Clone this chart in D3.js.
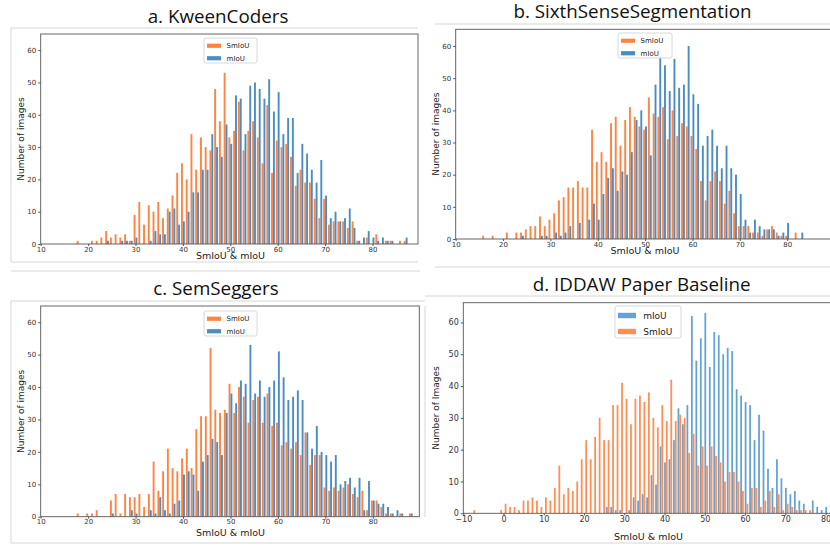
<!DOCTYPE html>
<html>
<head>
<meta charset="utf-8">
<script src="https://cdn.jsdelivr.net/npm/d3@7"></script>
<style>
  body { margin: 0; background: #fff; }
  svg { display: block; }
  .tick text { font-family: "DejaVu Sans", sans-serif; fill: #333; }
  .lbl { font-family: "DejaVu Sans", sans-serif; fill: #222; }
  .ttl { font-family: "Open Sans", sans-serif; fill: #111; }
</style>
</head>
<body>
<div id="chart"></div>
<script>
// ---- data (counts per bin) ----
var titles = ["a. KweenCoders", "b. SixthSenseSegmentation", "c. SemSeggers", "d. IDDAW Paper Baseline"];
var ticksX = [10, 20, 30, 40, 50, 60, 70, 80];
var ticksXD = [-10, 0, 10, 20, 30, 40, 50, 60, 70, 80];
var ticksY = [0, 10, 20, 30, 40, 50, 60];

// a. KweenCoders, bins of width 1 starting at 17.5
var binStartA = 17.5, binWidthA = 1;
var smA = [1,0,0,1,1,2,4,2,3,2,3,1,9,13,6,12,10,13,8,11,15,22,25,20,34,23,33,30,29,48,38,53,33,35,44,29,35,38,33,25,43,22,32,30,31,27,18,23,19,19,14,8,14,6,7,7,7,5,7,1,0,2,0,3,0,1,1,0,1,1,0];
var miA = [0,0,0,0,0,0,1,0,0,1,1,1,2,0,0,1,4,3,3,10,11,6,7,10,16,16,23,23,34,30,27,37,31,46,45,34,49,50,48,45,51,41,47,34,39,39,22,31,28,23,19,26,15,8,10,7,8,11,5,1,2,4,2,1,2,1,1,0,0,2,0];

// b. SixthSenseSegmentation, starting at 15.5
var binStartB = 15.5, binWidthB = 1;
var smB = [1,0,1,0,0,2,0,2,2,3,4,4,7,4,6,8,12,13,16,16,18,16,16,34,24,27,24,36,38,29,37,41,38,35,34,44,39,38,41,31,40,32,36,35,32,28,18,12,18,21,18,11,15,8,4,4,4,2,2,1,3,4,2,1,1,0,2,0];
var miB = [0,0,0,0,0,0,0,0,1,0,0,0,1,1,0,2,1,2,4,0,5,0,6,11,6,14,19,22,15,21,20,27,37,40,35,26,48,57,54,46,56,47,48,60,45,42,29,32,34,29,22,29,22,20,14,6,2,6,4,3,3,3,1,2,5,0,0,2];

// c. SemSeggers, starting at 17.5
var binStartC = 17.5, binWidthC = 1;
var smC = [1,0,1,1,2,0,0,5,7,1,7,6,6,7,3,7,17,8,14,21,15,14,18,21,15,27,31,31,52,33,32,33,41,32,40,37,29,36,37,29,38,28,29,22,23,21,23,19,26,16,19,19,9,8,9,8,9,10,7,6,8,2,5,5,3,1,1,0,1,0,1];
var miC = [0,0,0,0,0,0,0,1,0,0,0,2,1,0,0,2,1,6,2,1,4,5,13,14,13,8,17,19,24,23,19,32,38,35,42,41,53,38,42,37,40,42,51,43,36,37,39,36,26,21,28,20,19,17,19,10,11,12,9,12,2,11,5,4,4,3,1,2,1,0,1];

// d. IDDAW Paper Baseline, 80 bins from -8.06, width 1.1125
var binStartD = -8.06, binWidthD = 1.1125;
var miD = [0,0,0,0,0,0,0,0,0,0,0,0,0,0,0,0,0,0,0,0,0,0,0,0,0,0,0,0,0,0,2,2,1,1,0,1,5,4,6,5,12,9,21,16,17,23,33,28,34,62,48,55,63,46,57,56,50,52,51,39,37,35,34,23,31,26,14,8,17,11,8,6,7,4,3,0,4,2,1,2];
var smD = [1,0,0,0,0,0,1,3,2,2,1,4,4,5,4,2,5,4,8,15,6,8,7,10,17,23,17,24,30,23,23,34,34,41,36,28,36,37,35,38,30,27,34,29,42,29,31,30,19,25,15,21,15,21,18,16,10,13,13,10,7,3,8,8,2,4,7,2,6,1,3,2,1,1,1,1,0,0,0,0];

var W = 830, H = 545;
var orange = "#fd8442", blue = "#4b8dc3";
var orangeD = "#ff8f55", blueD = "#66a3d3";

var svg = d3.select("#chart").append("svg").attr("width", W).attr("height", H);

// light borders of the pasted screenshots
var frameLines = [
    [11, 28, 11, 262], [11, 28, 418, 28], [11, 262, 418, 262],
    [435, 24, 830, 24], [435, 267, 830, 267],
    [11, 271, 420, 271], [11, 301, 11, 543], [11, 301, 425, 301], [11, 543, 425, 543],
    [425, 296, 830, 296], [425, 306, 425, 517], [425, 543, 830, 543]
];
svg.selectAll("line.frame").data(frameLines).enter().append("line")
    .attr("x1", function(d) { return d[0]; }).attr("y1", function(d) { return d[1]; })
    .attr("x2", function(d) { return d[2]; }).attr("y2", function(d) { return d[3]; })
    .attr("stroke", "#d6d6d6").attr("stroke-width", 1);

var panels = [
    {title: titles[0], tx: 218, ty: 23.3, l: 40.7, r: 418, t: 34, b: 244, x0: 10, x1: 89.6, y1: 65,
     start: binStartA, w: binWidthA, series: [smA, miA], colors: [orange, blue], names: ["SmIoU", "mIoU"],
     ticks: ticksX, tf: 7, lx: 204, ly: 38, lw: 53, lh: 25, lf: 7, yl: "Number of images",
     xlx: 230.5, xly: 259, ylx: 20.7},
    {title: titles[1], tx: 632.5, ty: 17.5, l: 455.7, r: 834, t: 29.3, b: 239, x0: 10, x1: 89.9, y1: 65.2,
     start: binStartB, w: binWidthB, series: [smB, miB], colors: [orange, blue], names: ["SmIoU", "mIoU"],
     ticks: ticksX, tf: 7, lx: 618, ly: 33, lw: 54, lh: 25, lf: 7, yl: "Number of images",
     xlx: 645, xly: 254, ylx: 435.7},
    {title: titles[2], tx: 216, ty: 295, l: 40.7, r: 419.3, t: 306, b: 516.7, x0: 10, x1: 89.8, y1: 65,
     start: binStartC, w: binWidthC, series: [smC, miC], colors: [orange, blue], names: ["SmIoU", "mIoU"],
     ticks: ticksX, tf: 7, lx: 204, ly: 311, lw: 53, lh: 25, lf: 7, yl: "Number of images",
     xlx: 230.5, xly: 536, ylx: 20.7},
    {title: titles[3], tx: 641.7, ty: 290.7, l: 463.3, r: 834, t: 302.7, b: 513.3, x0: -10, x1: 82.1, y1: 66.2,
     start: binStartD, w: binWidthD, series: [miD, smD], colors: [blueD, orangeD], names: ["mIoU", "SmIoU"],
     ticks: ticksXD, tf: 8, lx: 615, ly: 306, lw: 66, lh: 32, lf: 9, yl: "Number of Images",
     xlx: 648.5, xly: 539.5, ylx: 435.7}
];

panels.forEach(function(p, pi) {
    var x = d3.scaleLinear().domain([p.x0, p.x1]).range([p.l, p.r]);
    var y = d3.scaleLinear().domain([0, p.y1]).range([p.b, p.t]);
    var g = svg.append("g");

    var clipId = "clip" + pi;
    g.append("clipPath").attr("id", clipId).append("rect")
        .attr("x", p.l).attr("y", p.t).attr("width", p.r - p.l).attr("height", p.b - p.t);

    // grouped histogram bars: two series side by side inside each bin
    var bars = g.append("g").attr("clip-path", "url(#" + clipId + ")");
    p.series.forEach(function(vals, si) {
        var pts = [];
        vals.forEach(function(v, i) { if (v > 0) pts.push({i: i, v: v}); });
        bars.selectAll(null).data(pts).enter().append("rect")
            .attr("x", function(d) { return x(p.start + p.w * (d.i + 0.1 + 0.4 * si)); })
            .attr("width", function(d) { return x(p.start + p.w * (d.i + 0.5 + 0.4 * si)) - x(p.start + p.w * (d.i + 0.1 + 0.4 * si)); })
            .attr("y", function(d) { return y(d.v); })
            .attr("height", function(d) { return y(0) - y(d.v); })
            .attr("fill", p.colors[si]);
    });

    g.append("rect").attr("x", p.l).attr("y", p.t).attr("width", p.r - p.l).attr("height", p.b - p.t)
        .attr("fill", "none").attr("stroke", "#555").attr("stroke-width", 0.9);

    var xa = g.append("g").attr("transform", "translate(0," + p.b + ")")
        .call(d3.axisBottom(x).tickValues(p.ticks).tickSize(2).tickPadding(0.8));
    var ya = g.append("g").attr("transform", "translate(" + p.l + ",0)")
        .call(d3.axisLeft(y).tickValues(ticksY).tickSize(2.5).tickPadding(2));
    [xa, ya].forEach(function(a) {
        a.select(".domain").remove();
        a.selectAll(".tick line").attr("stroke", "#555");
        a.selectAll(".tick text").style("font-size", p.tf + "px");
    });

    g.append("text").attr("class", "lbl").attr("x", p.xlx).attr("y", p.xly)
        .attr("text-anchor", "middle").style("font-size", "9.5px").text("SmIoU & mIoU");
    g.append("text").attr("class", "lbl")
        .attr("transform", "translate(" + (p.ylx + 3) + "," + ((p.t + p.b) / 2) + ") rotate(-90)")
        .attr("text-anchor", "middle").style("font-size", "9px").text(p.yl);

    svg.append("text").attr("class", "ttl").attr("x", p.tx).attr("y", p.ty)
        .attr("text-anchor", "middle").style("font-size", "18.8px").text(p.title);

    // legend
    var lg = g.append("g").attr("transform", "translate(" + p.lx + "," + p.ly + ")");
    lg.append("rect").attr("width", p.lw).attr("height", p.lh).attr("rx", 2)
        .attr("fill", "#fff").attr("fill-opacity", 0.85).attr("stroke", "#d8d8d8");
    var rowH = p.lh / 2;
    p.names.forEach(function(n, i) {
        var cy = 3 + rowH * i + rowH / 2 - 1.5;
        lg.append("rect").attr("x", 3).attr("y", cy - p.lf * 0.3).attr("width", p.lf * 2)
            .attr("height", p.lf * 0.6).attr("fill", p.colors[i]);
        lg.append("text").attr("class", "lbl").attr("x", 3 + p.lf * 2 + p.lf * 0.8).attr("y", cy + p.lf * 0.35)
            .style("font-size", p.lf + "px").text(n);
    });
});
</script>
</body>
</html>
